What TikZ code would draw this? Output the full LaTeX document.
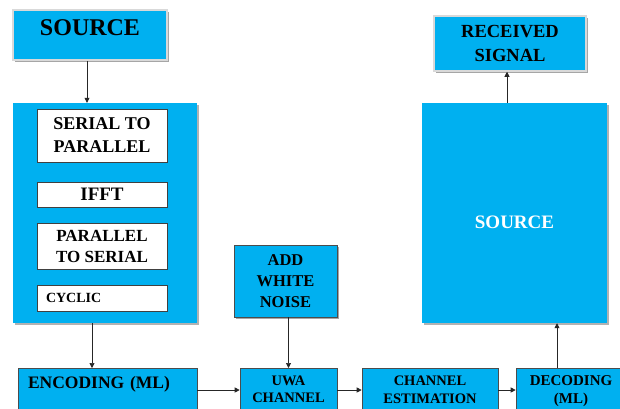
\documentclass[tikz,border=0pt]{standalone}
\usepackage{fontspec}
\setmainfont{Liberation Serif}
\usetikzlibrary{arrows.meta, positioning, shadows}
\definecolor{boxcyan}{HTML}{00B0F0}
\newcommand{\boxfont}[2]{\fontsize{#1}{#2}\selectfont\bfseries}

\begin{document}
\begin{tikzpicture}[
    x=1pt, y=-1pt,
    headbox/.style={
        rectangle,
        fill=boxcyan,
        draw=black!15,
        line width=1.5pt,
        drop shadow={shadow xshift=1.5pt, shadow yshift=-1.5pt, fill=black!35, opacity=1},
        align=center
    },
    blockbox/.style={
        rectangle,
        fill=boxcyan,
        drop shadow={shadow xshift=1.5pt, shadow yshift=-1.5pt, fill=black!30, opacity=1},
        align=center
    },
    stagebox/.style={
        rectangle,
        fill=white,
        draw=black!75,
        line width=0.6pt,
        minimum width=130pt,
        align=center
    },
    rowbox/.style={
        rectangle,
        anchor=north,
        fill=boxcyan,
        draw=black!70,
        line width=0.6pt,
        inner ysep=0pt,
        text depth=40pt,
        align=center
    },
    arrow/.style={
        line width=0.7pt,
        draw=black!85,
        -{Triangle[length=5pt, width=5pt]}
    }
]
\clip (0,0) rectangle (620,408);

% --- transmitter ---
\node (src) [headbox, minimum width=154pt, minimum height=50pt, text height=10pt, text depth=10pt, font=\boxfont{24}{28}] at (90,35) {SOURCE};
\node (tx) [blockbox, minimum width=184pt, minimum height=220pt] at (105,213) {};
\node (s2p) [stagebox, minimum height=53pt, font=\boxfont{18}{23}] at (102,135.5) {SERIAL TO\\PARALLEL};
\node (ifft) [stagebox, minimum height=25pt, font=\boxfont{19}{23}] at (102,194.5) {IFFT};
\node (p2s) [stagebox, minimum height=46pt, font=\boxfont{17}{21}] at (102,246) {PARALLEL\\TO SERIAL};
\node (cyclic) [stagebox, minimum height=26pt, text width=112pt, inner xsep=9pt, align=left, font=\boxfont{14}{17}] at (102,298) {CYCLIC};

% --- channel ---
\node (enc) [rowbox, minimum width=179pt, text width=159pt, inner xsep=10pt, align=left, text height=20pt, font=\boxfont{17.5}{21}] at (107.5,368) {ENCODING (ML)};
\node (uwa) [rowbox, minimum width=97pt, text height=34pt, font=\boxfont{14.5}{17}] at (288.5,368) {UWA\\CHANNEL};
\node (noise) [headbox, draw=black!70, line width=0.6pt, drop shadow={opacity=0}, minimum width=103pt, minimum height=72pt, font=\boxfont{16.5}{21}] at (285.5,281) {ADD\\WHITE\\NOISE};
\node (chest) [rowbox, minimum width=136pt, text height=35pt, font=\boxfont{14.5}{18}] at (430,368) {CHANNEL\\ESTIMATION};
\node (dec) [rowbox, minimum width=110pt, text height=35pt, font=\boxfont{15}{18}] at (571,368) {DECODING\\(ML)};

% --- receiver ---
\node (rx) [blockbox, minimum width=185pt, minimum height=220pt, text height=30pt, text depth=0pt, text=white, font=\boxfont{19}{23}] at (514.5,213) {SOURCE};
\node (rcv) [headbox, minimum width=152pt, minimum height=55pt, font=\boxfont{18.5}{24}] at (510,43.5) {RECEIVED\\SIGNAL};

% --- arrows ---
\draw [arrow] ([xshift=-3pt]src.south) -- ([xshift=-3pt]src.south |- tx.north);
\draw [arrow] ([xshift=-13pt]tx.south) -- ([xshift=-13pt]tx.south |- enc.north);
\draw [arrow] ([yshift=-22pt]enc.north east) -- ([yshift=-22pt]enc.north east -| uwa.west);
\draw [arrow] (uwa.north |- noise.south) -- (uwa.north);
\draw [arrow] ([yshift=-22pt]uwa.north east) -- ([yshift=-22pt]uwa.north east -| chest.west);
\draw [arrow] ([yshift=-22pt]chest.north east) -- ([yshift=-22pt]chest.north east -| dec.west);
\draw [arrow] ([xshift=-14pt]dec.north) -- ([xshift=-14pt]dec.north |- rx.south);
\draw [arrow] ([xshift=-7.5pt]rx.north) -- ([xshift=-7.5pt]rx.north |- rcv.south);

\end{tikzpicture}
\end{document}
